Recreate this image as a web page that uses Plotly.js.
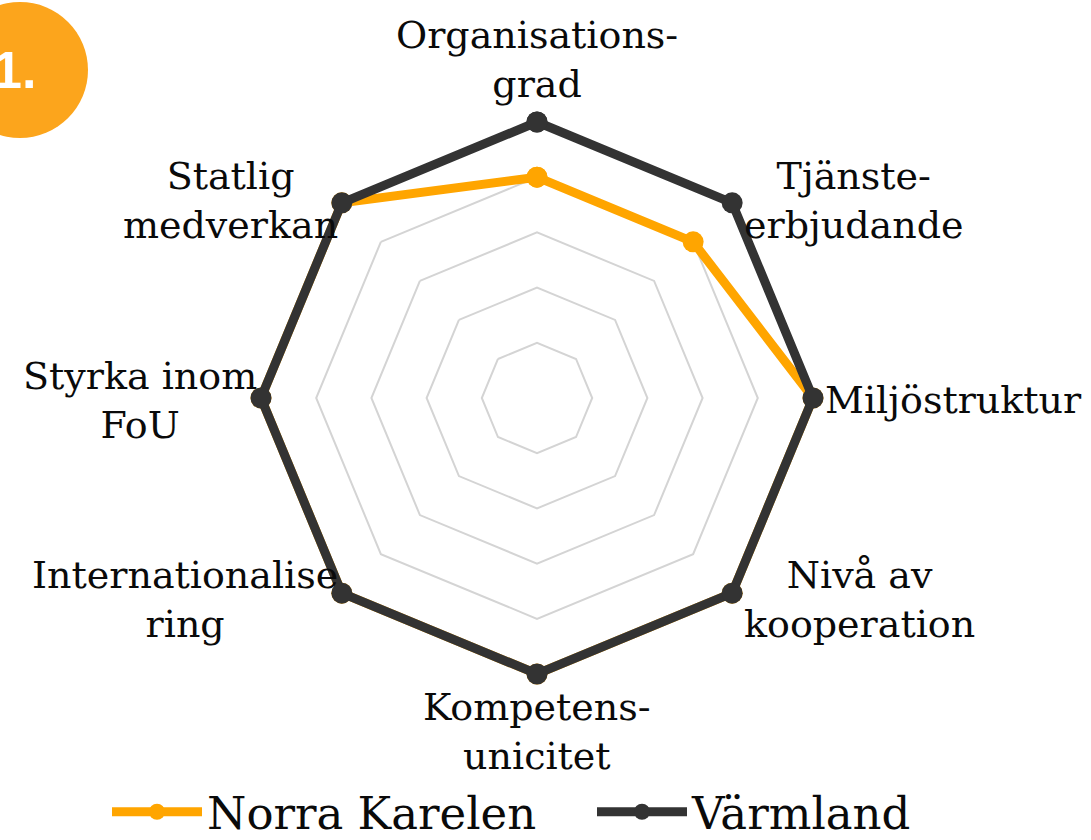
<!DOCTYPE html>
<html>
<head>
<meta charset="utf-8">
<script src="https://cdn.plot.ly/plotly-3.0.1.min.js"></script>
<style>html,body{margin:0;padding:0;background:#fff;}#chart{width:1091px;height:840px;}</style>
</head>
<body>
<div id="chart"></div>
<script>
const categories = [
  "Organisations-<br>grad",
  "Tjänste-<br>erbjudande",
  "Miljöstruktur",
  "Nivå av<br>kooperation",
  "Kompetens-<br>unicitet",
  "Internationalise<br>ring",
  "Styrka inom<br>FoU",
  "Statlig<br>medverkan"
];
const norraKarelen = [4, 4, 5, 5, 5, 5, 5, 5];
const varmland = [5, 5, 5, 5, 5, 5, 5, 5];
const seriesNames = ["Norra Karelen", "Värmland"];
const badgeText = "1.";

const W = 1091, H = 840;
const cx = 537, cy = 398;      // chart centre (px)
const R5 = 276;                // radius of value 5 (px)
const rMax = 5.2;              // radial range end (keeps outer line unclipped)
const RD = R5 * rMax / 5;      // domain radius

function closed(a){ return a.concat([a[0]]); }

const traces = [
  {
    type: "scatterpolar", mode: "lines+markers", name: seriesNames[0],
    r: closed(norraKarelen), theta: closed(categories),
    line: {color: "#FFA500", width: 9}, marker: {color: "#FFA500", size: 21},
    cliponaxis: false
  },
  {
    type: "scatterpolar", mode: "lines+markers", name: seriesNames[1],
    r: closed(varmland), theta: closed(categories),
    line: {color: "#333333", width: 9}, marker: {color: "#333333", size: 21},
    cliponaxis: false
  }
];

// category labels placed around the polar area, centred text like the reference
const labelAnnotations = categories.map(function(c, i){
  const th = i * 2 * Math.PI / categories.length;
  const s = Math.sin(th), co = Math.cos(th);
  const px = cx + R5 * s, py = cy - R5 * co;
  const a = {
    xref: "paper", yref: "paper", showarrow: false, text: c, align: "center",
    font: {family: "DejaVu Serif", size: 38, color: "#0a0a0a"}
  };
  if (Math.abs(s) < 1e-6) {
    a.x = px / W; a.xanchor = "center";
    if (co > 0) { a.y = (H - (py - 14)) / H; a.yanchor = "bottom"; }
    else { a.y = (H - (py + 9)) / H; a.yanchor = "top"; }
  } else {
    a.x = (s > 0 ? px + 10 : px - 2) / W;
    a.xanchor = s > 0 ? "left" : "right";
    a.y = (H - (py - co * 6 + 2)) / H; a.yanchor = "middle";
  }
  return a;
});

const layout = {
  width: W, height: H,
  margin: {l: 0, r: 0, t: 0, b: 0, autoexpand: false},
  paper_bgcolor: "#ffffff",
  font: {family: "DejaVu Serif", color: "#111"},
  showlegend: true,
  legend: {
    orientation: "h", x: 107 / W, xanchor: "left", y: -8 / H, yanchor: "bottom",
    font: {family: "DejaVu Serif", size: 45, color: "#0a0a0a"},
    itemwidth: 90, entrywidth: 380, entrywidthmode: "pixels", bgcolor: "rgba(0,0,0,0)"
  },
  polar: {
    domain: {x: [(cx - RD) / W, (cx + RD) / W], y: [(H - cy - RD) / H, (H - cy + RD) / H]},
    bgcolor: "rgba(0,0,0,0)",
    gridshape: "linear",
    radialaxis: {
      range: [0, rMax], tickvals: [1, 2, 3, 4, 5], showticklabels: false, ticks: "",
      showline: false, gridcolor: "#d4d4d4", gridwidth: 2
    },
    angularaxis: {
      direction: "clockwise", rotation: 90, showgrid: false, showline: false, ticks: "",
      showticklabels: false
    }
  },
  shapes: [{
    type: "circle", xref: "paper", yref: "paper",
    x0: -48 / W, x1: 88 / W, y0: (H - 138) / H, y1: (H - 2) / H,
    fillcolor: "#FCA51C", line: {width: 0}, layer: "below"
  }],
  annotations: labelAnnotations.concat([{
    xref: "paper", yref: "paper", x: 38 / W, y: (H - 70) / H,
    xanchor: "right", yanchor: "middle", showarrow: false, text: "<b>" + badgeText + "</b>",
    font: {family: "Liberation Sans", size: 52, color: "#ffffff"}
  }])
};

Plotly.newPlot("chart", traces, layout, {displayModeBar: false, staticPlot: true});
</script>
</body>
</html>
